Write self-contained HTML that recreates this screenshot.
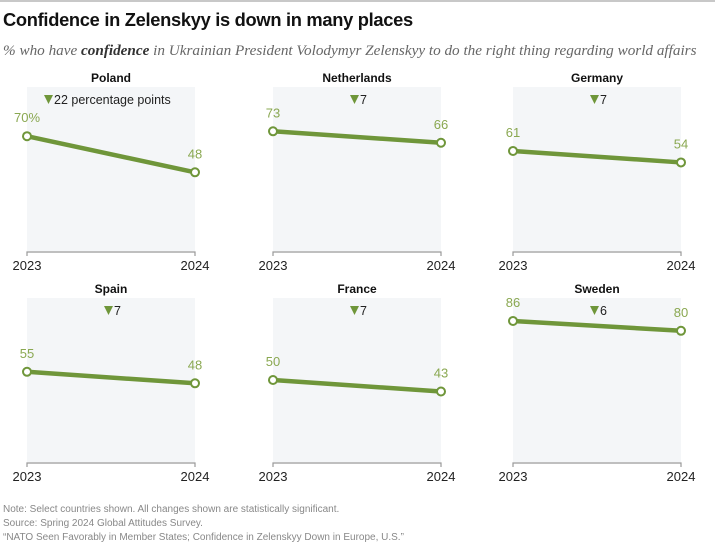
<!DOCTYPE html>
<html><head><meta charset="utf-8"><style>
body{margin:0;background:#fff;width:715px;height:550px;overflow:hidden;font-family:"Liberation Sans",sans-serif}
</style></head><body>
<svg width="715" height="550" xmlns="http://www.w3.org/2000/svg">
<rect x="0" y="0" width="715" height="2" fill="#c8c8c8"/>
<text x="3" y="26" font-size="18.3" font-weight="bold" fill="#111" style="letter-spacing:-0.3px">Confidence in Zelenskyy is down in many places</text>
<text x="3" y="55" font-size="15.2" font-style="italic" fill="#666" font-family="Liberation Serif, serif">% who have <tspan font-weight="bold" fill="#333">confidence</tspan> in Ukrainian President Volodymyr Zelenskyy to do the right thing regarding world affairs</text>
<g id="panels"></g>
<text x="3" y="512" font-size="10" fill="#888">Note: Select countries shown. All changes shown are statistically significant.</text>
<text x="3" y="526" font-size="10" fill="#888">Source: Spring 2024 Global Attitudes Survey.</text>
<text x="3" y="540" font-size="10" fill="#888">“NATO Seen Favorably in Member States; Confidence in Zelenskyy Down in Europe, U.S.”</text>
</svg>
<script>
const countries = ["Poland","Netherlands","Germany","Spain","France","Sweden"];
const values2023 = [70,73,61,55,50,86];
const values2024 = [48,66,54,48,43,80];
const changeLabels = ["22 percentage points","7","7","7","7","6"];
const firstLabels = ["70%","73","61","55","50","86"];
const years = ["2023","2024"];
const NS="http://www.w3.org/2000/svg";
const g=document.getElementById('panels');
const colX=[27,273,513], rowBase=[251,462], W=168, H=164;
function mk(t,a,txt){const e=document.createElementNS(NS,t);for(const k in a)e.setAttribute(k,a[k]);if(txt!==undefined)e.textContent=txt;g.appendChild(e);return e;}
countries.forEach((c,i)=>{
  const x0=colX[i%3], x1=x0+W, b=rowBase[Math.floor(i/3)];
  const y=v=>b-v*H/100;
  const bg=mk('rect',{x:x0,y:y(100),width:W,height:H,fill:'#f4f6f8'});
  
  
  const t=mk('text',{x:(x0+x1)/2,y:y(100)-5,'font-size':12,'font-weight':'bold','text-anchor':'middle',fill:'#111'},c);
  
  
  const ax=mk('path',{d:`M${x0},${b+5}V${b+1}H${x1}V${b+5}`,stroke:'#999','stroke-width':1.2,fill:'none'});
  
  
  [x0,x1].forEach((xx,j)=>{const l=mk('text',{x:xx,y:b+19,'font-size':13,'text-anchor':'middle',fill:'#222'},years[j]);
    
    });
  const line=mk('line',{x1:x0,y1:y(values2023[i]),x2:x1,y2:y(values2024[i]),stroke:'#6f963a','stroke-width':4.5,'stroke-linecap':'round'});
  
  
  [[x0,values2023[i]],[x1,values2024[i]]].forEach(([xx,v])=>{const p=mk('circle',{cx:xx,cy:y(v),r:4,fill:'#fff',stroke:'#6f963a','stroke-width':2});
    
    });
  const l1=mk('text',{x:x0,y:y(values2023[i])-14,'font-size':13,'text-anchor':'middle',fill:'#8aa851'},firstLabels[i]);
  
  
  const l2=mk('text',{x:x1,y:y(values2024[i])-14,'font-size':13,'text-anchor':'middle',fill:'#8aa851'},String(values2024[i]));
  
  
  const cx=i===0?x0+17:x0+77, cy=y(100)+13;
  const tri=mk('path',{d:`M${cx},${cy-5}h9l-4.5,9z`,fill:'#6f963a'});
  
  
  const ct=mk('text',{x:cx+10,y:cy+4,'font-size':12.5,fill:'#222'},changeLabels[i]);
  
  
});
</script>
</body></html>
